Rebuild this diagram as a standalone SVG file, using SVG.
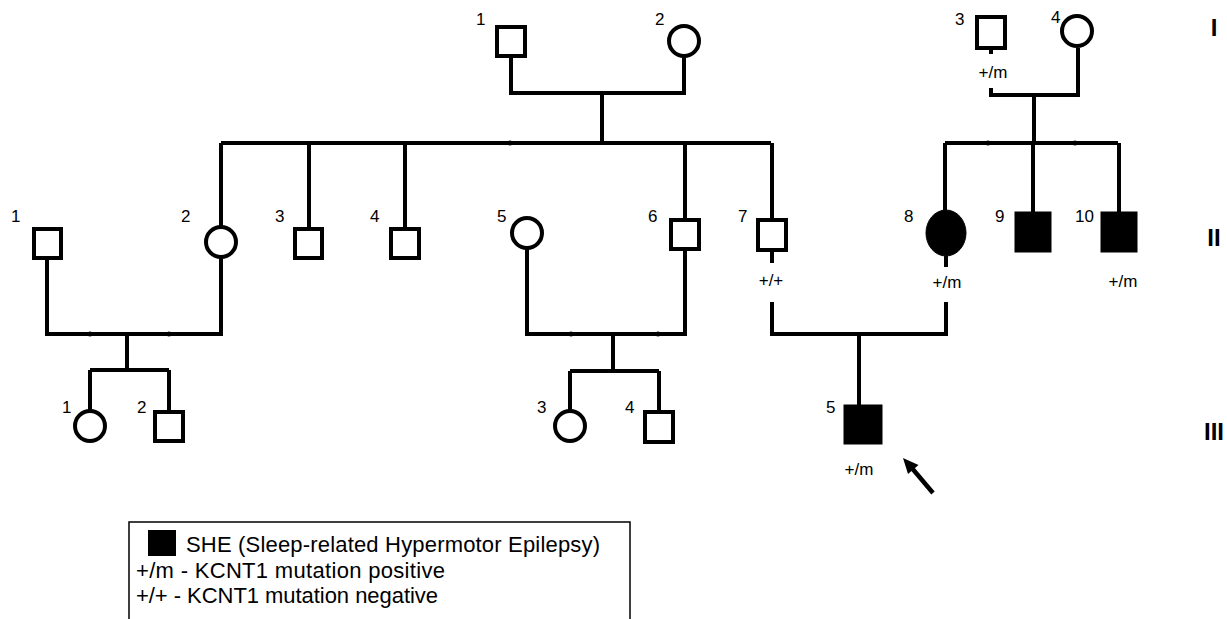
<svg xmlns="http://www.w3.org/2000/svg" width="1227" height="619" viewBox="0 0 1227 619">
<style>
.ln{stroke:#000;stroke-width:4;fill:none;stroke-linecap:butt}
.sq{stroke:#000;stroke-width:4;fill:#fff}
.ci{stroke:#000;stroke-width:4;fill:#fff}
.aff{fill:#000;stroke:#000;stroke-width:1}
.num{font-family:"Liberation Sans",Arial,sans-serif;font-size:17px;fill:#000}
.gt{font-family:"Liberation Sans",Arial,sans-serif;font-size:17px;fill:#000;text-anchor:middle}
.gen{font-family:"Liberation Sans",Arial,sans-serif;font-size:24px;font-weight:bold;fill:#000;text-anchor:middle}
.leg{font-family:"Liberation Sans",Arial,sans-serif;font-size:22px;fill:#000}
.dot{fill:#000}
</style>
<rect width="1227" height="619" fill="#fff"/>
<g id="connectors">
<!-- generation I couple 1-2 -->
<path class="ln" d="M511 58 V93 H684 V48"/>
<path class="ln" d="M602 93 V143"/>
<path class="ln" d="M221 143 H771"/>
<path class="ln" d="M221 143 V226"/>
<path class="ln" d="M309 143 V227"/>
<path class="ln" d="M405 143 V227"/>
<path class="ln" d="M685 143 V218"/>
<path class="ln" d="M772 143 V218"/>
<!-- generation I couple 3-4 -->
<path class="ln" d="M991 50 V54"/>
<path class="ln" d="M991 88 V95 H1078 V48"/>
<path class="ln" d="M1034 95 V143"/>
<path class="ln" d="M945 143 H1118"/>
<path class="ln" d="M945 143 V212"/>
<path class="ln" d="M1033 143 V212"/>
<path class="ln" d="M1119 143 V212"/>
<!-- generation II couples -->
<path class="ln" d="M47 260 V334 H221 V258"/>
<path class="ln" d="M127 334 V370"/>
<path class="ln" d="M90 370 H169"/>
<path class="ln" d="M90 370 V410"/>
<path class="ln" d="M169 370 V410"/>
<path class="ln" d="M527 249 V334 H685 V251"/>
<path class="ln" d="M613 334 V371"/>
<path class="ln" d="M570 371 H659"/>
<path class="ln" d="M570 371 V410"/>
<path class="ln" d="M659 371 V410"/>
<path class="ln" d="M772 252 V263"/>
<path class="ln" d="M946 256 V267"/>
<path class="ln" d="M772 302 V334 H946 V302"/>
<path class="ln" d="M859 334 V405"/>
<!-- small junction dots -->
<circle class="dot" cx="510" cy="143" r="2.5"/>
<circle class="dot" cx="988" cy="143" r="2.5"/>
<circle class="dot" cx="1075" cy="143" r="2.5"/>
<circle class="dot" cx="90" cy="334" r="2.5"/>
<circle class="dot" cx="169" cy="334" r="2.5"/>
<circle class="dot" cx="571" cy="334" r="2.5"/>
<circle class="dot" cx="658" cy="334" r="2.5"/>
<!-- proband arrow -->
<line x1="933" y1="493" x2="911" y2="467" stroke="#000" stroke-width="4.5"/>
<polygon points="903,458 918.5,465 908,474" fill="#000"/>
</g>
<!-- Generation I -->
<g id="I-1"><rect class="sq" x="497" y="27" width="28" height="29"/><text class="num" x="476" y="25">1</text></g>
<g id="I-2"><circle class="ci" cx="684" cy="41" r="15"/><text class="num" x="655" y="25">2</text></g>
<g id="I-3"><rect class="sq" x="977" y="17" width="28" height="31"/><text class="num" x="955" y="25">3</text><text class="gt" x="993" y="78">+/m</text></g>
<g id="I-4"><circle class="ci" cx="1077" cy="31" r="15"/><text class="num" x="1051" y="23">4</text></g>
<!-- Generation II -->
<g id="II-1"><rect class="sq" x="34" y="229" width="27" height="29"/><text class="num" x="11" y="222">1</text></g>
<g id="II-2"><circle class="ci" cx="221" cy="242" r="15"/><text class="num" x="181" y="222">2</text></g>
<g id="II-3"><rect class="sq" x="295" y="229" width="27" height="29"/><text class="num" x="275" y="222">3</text></g>
<g id="II-4"><rect class="sq" x="391" y="229" width="28" height="29"/><text class="num" x="370" y="222">4</text></g>
<g id="II-5"><circle class="ci" cx="527" cy="233" r="15"/><text class="num" x="497" y="222">5</text></g>
<g id="II-6"><rect class="sq" x="671" y="220" width="28" height="29"/><text class="num" x="648" y="222">6</text></g>
<g id="II-7"><rect class="sq" x="758" y="220" width="28" height="30"/><text class="num" x="738" y="222">7</text><text class="gt" x="771" y="286">+/+</text></g>
<g id="II-8"><ellipse class="aff" cx="946" cy="233" rx="20" ry="23"/><text class="num" x="904" y="222">8</text><text class="gt" x="947" y="288">+/m</text></g>
<g id="II-9"><rect class="aff" x="1015" y="212" width="36" height="40"/><text class="num" x="995" y="222">9</text></g>
<g id="II-10"><rect class="aff" x="1101" y="212" width="36" height="40"/><text class="num" x="1075" y="222">10</text><text class="gt" x="1123" y="287">+/m</text></g>
<!-- Generation III -->
<g id="III-1"><circle class="ci" cx="90" cy="426" r="15"/><text class="num" x="62" y="413">1</text></g>
<g id="III-2"><rect class="sq" x="155" y="412" width="28" height="29"/><text class="num" x="137" y="413">2</text></g>
<g id="III-3"><circle class="ci" cx="570" cy="426" r="15"/><text class="num" x="537" y="413">3</text></g>
<g id="III-4"><rect class="sq" x="645" y="412" width="28" height="30"/><text class="num" x="625" y="413">4</text></g>
<g id="III-5"><rect class="aff" x="844" y="405" width="38" height="39"/><text class="num" x="826" y="413">5</text><text class="gt" x="859" y="475">+/m</text></g>
<!-- generation labels -->
<g id="generations">
<text class="gen" x="1214" y="36">I</text>
<text class="gen" x="1214" y="246">II</text>
<text class="gen" x="1214" y="440">III</text>
</g>
<!-- legend -->
<g id="legend">
<rect x="129" y="522" width="501" height="110" fill="#fff" stroke="#000" stroke-width="1.5"/>
<rect x="148" y="530" width="28" height="26" fill="#000"/>
<text class="leg" x="186" y="552" textLength="414" lengthAdjust="spacing">SHE (Sleep-related Hypermotor Epilepsy)</text>
<text class="leg" x="136" y="578" textLength="309" lengthAdjust="spacing">+/m - KCNT1 mutation positive</text>
<text class="leg" x="136" y="603" textLength="302" lengthAdjust="spacing">+/+ - KCNT1 mutation negative</text>
</g>
</svg>
